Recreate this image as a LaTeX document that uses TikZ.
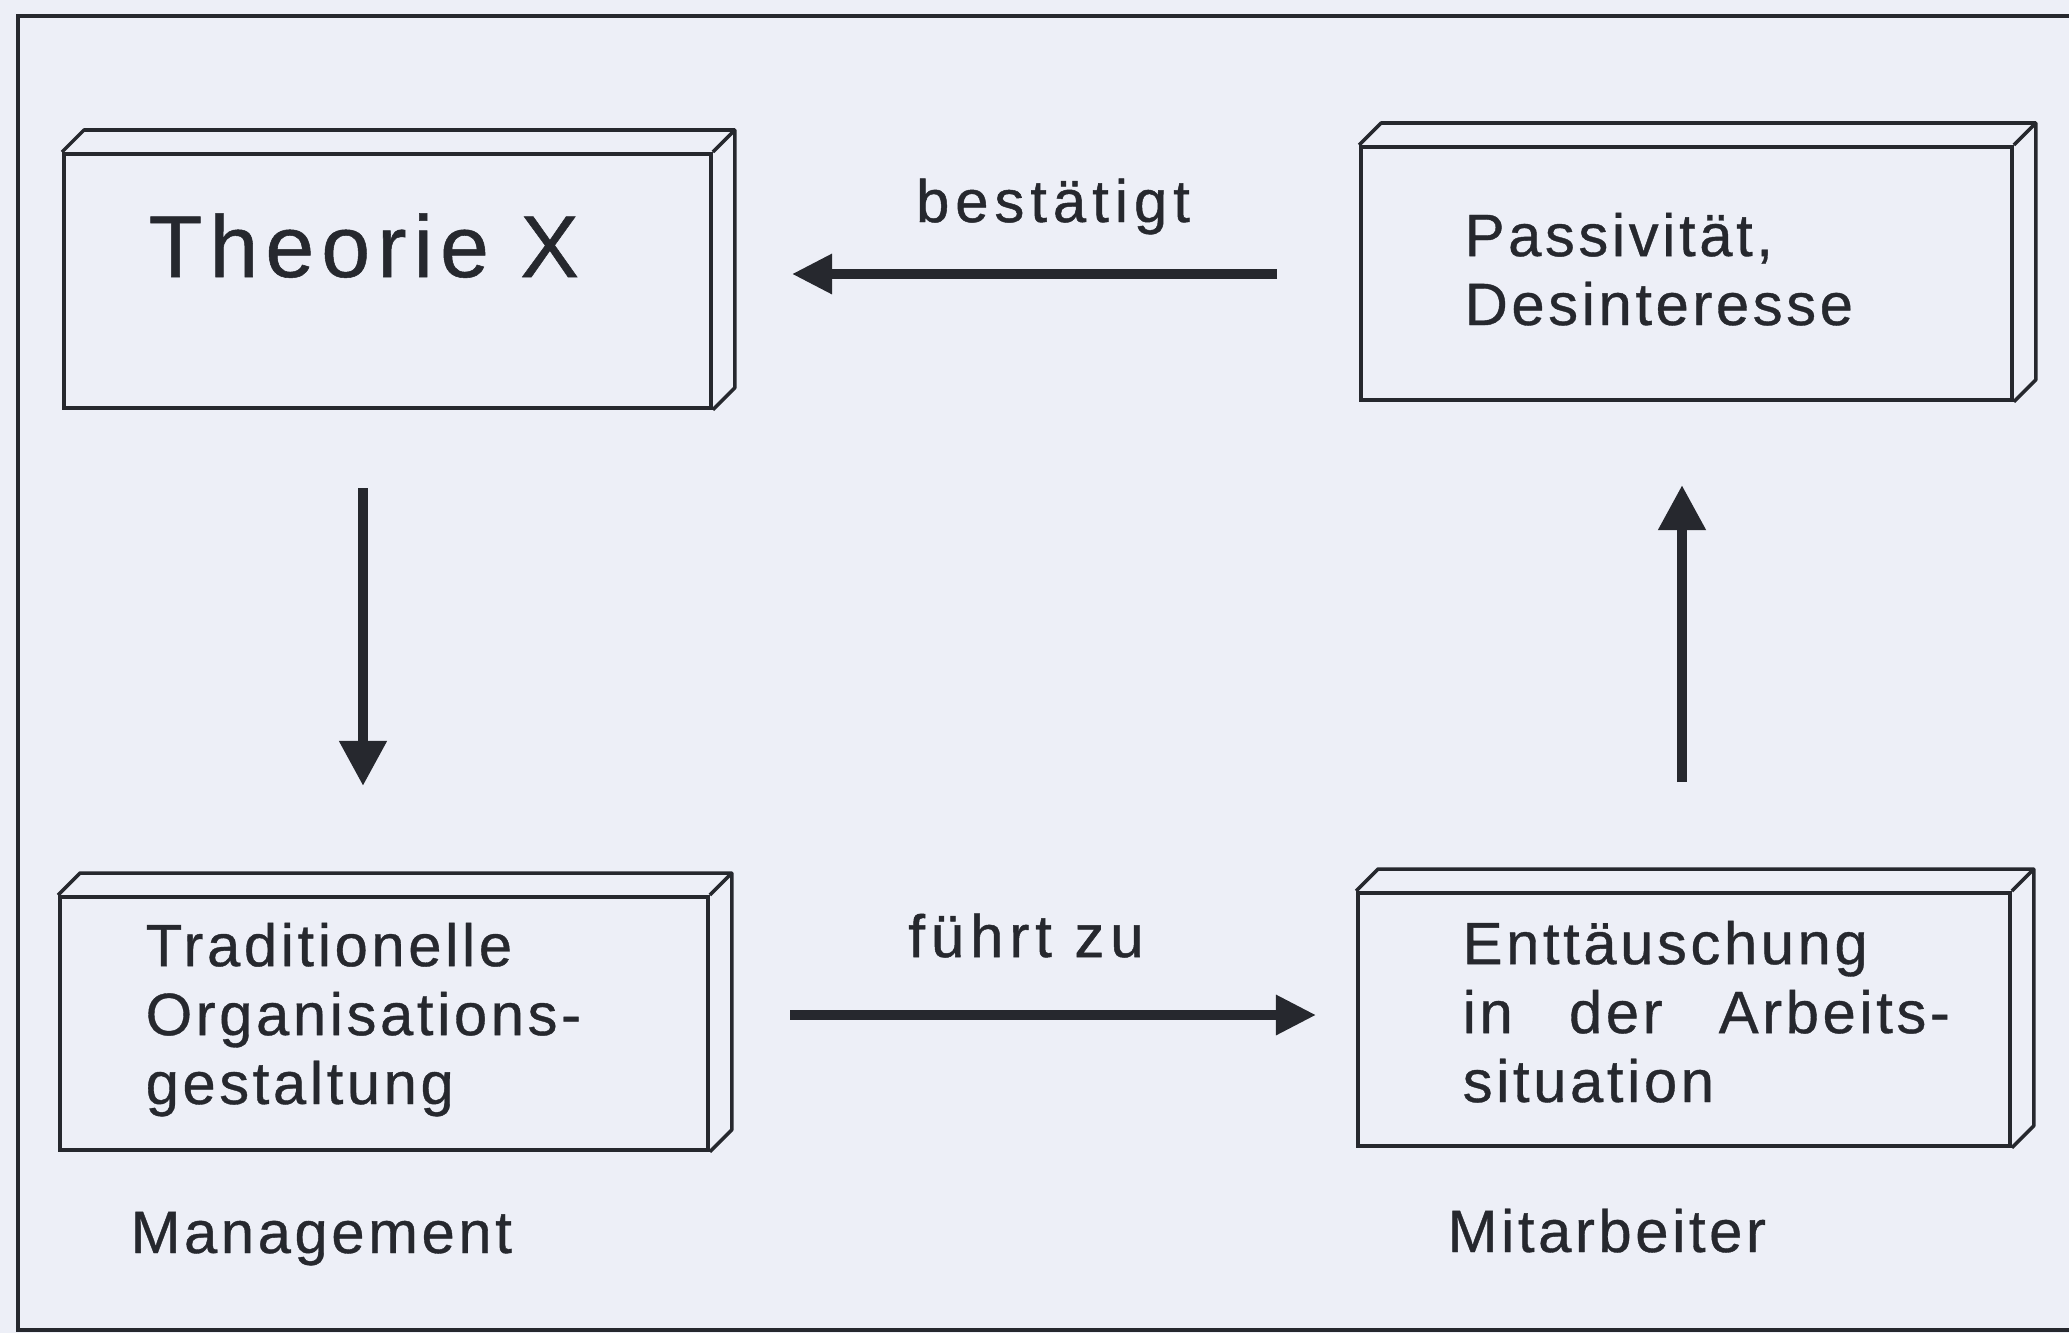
\documentclass[tikz,border=0pt]{standalone}
\usepackage{fontspec}
\setmainfont{Liberation Sans}
\usetikzlibrary{arrows.meta}
\definecolor{paper}{RGB}{237,239,247}
\definecolor{ink}{RGB}{38,40,46}

% draws the top and right faces of a slab whose front face is node #1
\newcommand\slabfaces[1]{%
  \draw[slabedge] (#1.north west) -- ++(22,-22)
    -- ([shift={(22,-22)}]#1.north east) -- ([shift={(22,-22)}]#1.south east)
    -- (#1.south east)
    (#1.north east) -- ([shift={(22,-22)}]#1.north east);}

\begin{document}
\begin{tikzpicture}[x=0.01cm,y=-0.01cm,
  slab/.style={draw=ink, line width=1pt, rectangle, inner sep=0pt, anchor=north west},
  slabedge/.style={draw=ink, line width=1pt, line join=round},
  boxtext/.style={text=ink, anchor=base west, align=left, inner sep=0pt,
    font=\fontsize{17pt}{19.6pt}\selectfont\addfontfeatures{LetterSpace=6,FakeBold=0.6}},
  verb/.style={boxtext, font=\fontsize{17pt}{19.6pt}\selectfont\addfontfeatures{LetterSpace=10,FakeBold=0.8}, anchor=base},
  flow/.style={draw=ink, line width=2.6pt, -{Triangle[length=0.4cm,width=0.38cm]}},
  vflow/.style={flow, line width=3pt, -{Triangle[length=0.45cm,width=0.45cm]}}]

\fill[paper] (0,0) rectangle (2069,1333);
\useasboundingbox (0,0) rectangle (2069,1333);

% frame
\draw[ink, line width=1.1pt] (2069,16) -- (18,16) -- (18,1330) -- (2069,1330);

% slabs
\node[slab, minimum width=6.47cm, minimum height=2.54cm] (theorie) at (62,152) {};
\node[slab, minimum width=6.51cm, minimum height=2.53cm] (passiv) at (1359,145) {};
\node[slab, minimum width=6.48cm, minimum height=2.53cm] (orga) at (58,895) {};
\node[slab, minimum width=6.52cm, minimum height=2.53cm] (enttaeusch) at (1356,891) {};
\slabfaces{theorie}
\slabfaces{passiv}
\slabfaces{orga}
\slabfaces{enttaeusch}

% slab texts (multi-line nodes sit on the baseline of their last line)
\node[boxtext, font=\fontsize{25pt}{28pt}\selectfont\addfontfeatures{LetterSpace=8,FakeBold=0.6}] (ttheorie) at (148,277) {Theorie X};
\node[boxtext] (tpassiv) at (1464,325) {Passivität,\\Desinteresse};
\node[boxtext] (torga) at (145,1104) {Traditionelle\\Organisations-\\gestaltung};
\node[boxtext] (tenttaeusch) at (1462,1102) {Enttäuschung\\in\hspace{0.36cm} der\hspace{0.36cm} Arbeits-\\situation};

% group labels
\node[boxtext] (management) at (130,1253) {Management};
\node[boxtext] (mitarbeiter) at (1447,1252) {Mitarbeiter};

% connectors
\coordinate (bstart) at (1277,274);
\coordinate (bend) at (792,274);
\coordinate (fstart) at (790,1015);
\coordinate (fend) at (1316,1015);
\coordinate (dstart) at (363,488);
\coordinate (dend) at (363,786);
\coordinate (ustart) at (1682,782);
\coordinate (uend) at (1682,485);

\draw[flow] (bstart) -- (bend);
\draw[flow] (fstart) -- (fend);
\draw[vflow] (dstart) -- (dend);
\draw[vflow] (ustart) -- (uend);

\node[verb] (lbest) at (1053,222) {bestätigt};
\node[verb] (lfuehrt) at (1026,957) {führt zu};
\end{tikzpicture}
\end{document}
